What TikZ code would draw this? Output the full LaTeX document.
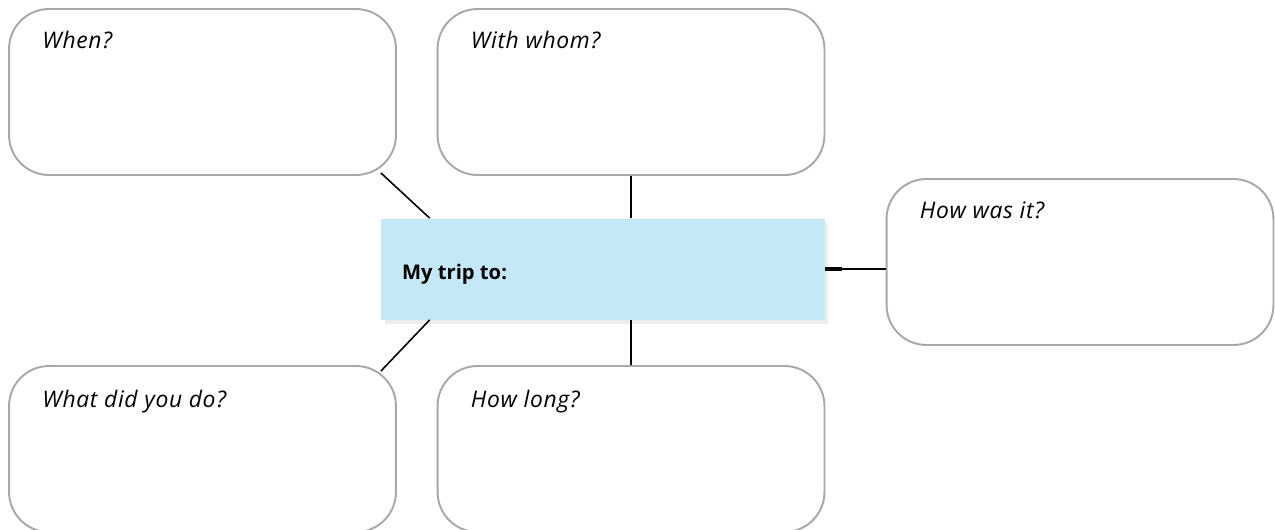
\documentclass[tikz,border=0pt]{standalone}
\usepackage{fontspec}
\setmainfont{Open Sans}
\usetikzlibrary{shadows}
\definecolor{tripblue}{HTML}{C5E8F7}
\definecolor{boxgray}{HTML}{A8A8A8}
\tikzset{
    answer/.style={draw=boxgray, line width=1.1pt, fill=white, rounded corners=0.8cm,
        minimum width=7.74cm, minimum height=3.32cm, inner sep=0pt},
    question/.style={anchor=base west, inner sep=0pt,
        font=\fontsize{13}{15}\selectfont\itshape\addfontfeatures{LetterSpace=3}},
    link/.style={line width=0.9pt, black}
}
\begin{document}
\begin{tikzpicture}[x=0.02cm, y=-0.02cm]
    \useasboundingbox (0,0) rectangle (1275,529);
    \node [answer] (when) at (202.5,92) {};
    \node [answer] (whom) at (631,92) {};
    \node [answer] (howwas) at (1080,262) {};
    \node [answer] (whatdid) at (202.5,449) {};
    \node [answer] (howlong) at (631,449) {};
    \node [fill=tripblue, minimum width=8.88cm, minimum height=2.02cm, inner sep=0pt,
        drop shadow={opacity=0.15, shadow xshift=2pt, shadow yshift=-2.5pt}] (trip) at (603,269) {};
    \draw [link] ([shift={(49,0)}]trip.north west) -- ([shift={(-16,-3)}]when.south east);
    \draw [link] ([shift={(49,0)}]trip.south west) -- ([shift={(-16,6)}]whatdid.north east);
    \draw [link] (trip.north -| whom.south) -- (whom.south);
    \draw [link] (trip.south -| howlong.north) -- (howlong.north);
    \draw [link] (trip.east) -- (trip.east -| howwas.west);
    \draw [line width=2pt] (trip.east) -- ++(17,0);
    \node [anchor=base west, inner sep=0pt, font=\fontsize{11.5}{14}\selectfont\bfseries] at ([shift={(21,10)}]trip.west) {My trip to:};
    \node [question] at ([shift={(34,40)}]when.north west) {When?};
    \node [question] at ([shift={(34,40)}]whom.north west) {With whom?};
    \node [question] at ([shift={(34,40)}]howwas.north west) {How was it?};
    \node [question] at ([shift={(34,42)}]whatdid.north west) {What did you do?};
    \node [question] at ([shift={(34,42)}]howlong.north west) {How long?};
\end{tikzpicture}
\end{document}
